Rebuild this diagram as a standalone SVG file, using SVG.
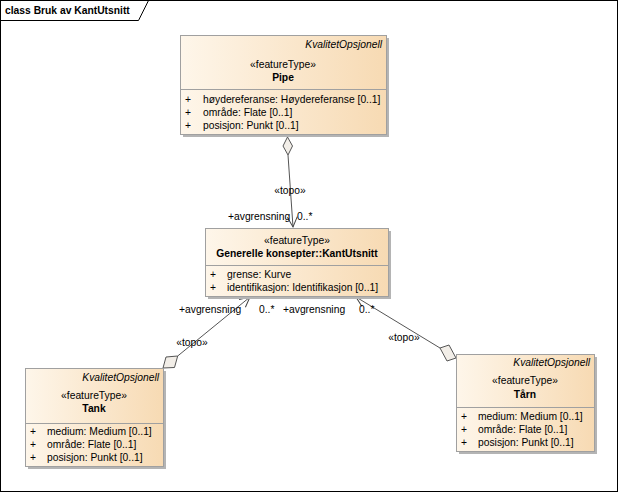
<svg xmlns="http://www.w3.org/2000/svg" width="619" height="493" viewBox="0 0 619 493">
<defs>
<linearGradient id="g" x1="0" y1="0" x2="1" y2="0">
<stop offset="0" stop-color="#FEF6EA"/>
<stop offset="1" stop-color="#F7DAB3"/>
</linearGradient>
<marker id="arr" viewBox="0 0 14 14" refX="12" refY="7" markerWidth="14" markerHeight="14" markerUnits="userSpaceOnUse" orient="auto">
<path d="M2,2 L12,7 L2,12" fill="none" stroke="#444" stroke-width="1"/>
</marker>
</defs>
<style>
text{font-family:"Liberation Sans",Arial,sans-serif;font-size:10.3px;fill:#000}
.b{font-weight:bold}
.i{font-style:italic}
.m{text-anchor:middle}
.r{text-anchor:end}
.box{fill:url(#g);stroke:#A0A0A0;stroke-width:1}
.sh{fill:#B4B4B4}
.div{stroke:#A0A0A0;stroke-width:1}
.ln{fill:none;stroke:#555;stroke-width:1}
.dia{fill:#F2EEE8;stroke:#555;stroke-width:1}
</style>
<rect x="0" y="0" width="619" height="493" fill="#fff"/>
<g id="frame">
<rect x="0.5" y="0.5" width="617" height="491" fill="none" stroke="#000" stroke-width="1"/>
<path d="M0.5,20.5 H138.5 L148.5,0.5" fill="none" stroke="#000" stroke-width="1"/>
<text class="b" x="5" y="14">class Bruk av KantUtsnitt</text>
</g>
<g id="connectors">
<polygon class="dia" points="287.5,137 292.5,146 288,155 283,146"/>
<line class="ln" x1="288" y1="155" x2="293" y2="227" marker-end="url(#arr)"/>
<polygon class="dia" points="163,368 174.5,367.5 177.7,356 166,357"/>
<line class="ln" x1="177.7" y1="356" x2="250" y2="297" marker-end="url(#arr)"/>
<polygon class="dia" points="456,358 447,361 440,348 449,345"/>
<line class="ln" x1="440" y1="348" x2="356" y2="297" marker-end="url(#arr)"/>
<text class="m" x="290" y="194">«topo»</text>
<text x="228" y="220">+avgrensning</text>
<text x="297" y="220">0..*</text>
<text x="179" y="313">+avgrensning</text>
<text x="259" y="313">0..*</text>
<text class="m" x="192" y="346">«topo»</text>
<text x="283" y="313">+avgrensning</text>
<text x="359" y="313">0..*</text>
<text class="m" x="404" y="341">«topo»</text>
</g>
<g id="pipe">
<rect class="sh" x="183" y="38" width="206" height="99"/>
<rect class="box" x="180.5" y="35.5" width="206" height="99"/>
<line class="div" x1="180.5" y1="89.5" x2="386.5" y2="89.5"/>
<text class="i r" x="382" y="48">KvalitetOpsjonell</text>
<text class="m" x="283" y="68">«featureType»</text>
<text class="b m" x="283" y="81">Pipe</text>
<text x="185" y="103">+</text><text x="203" y="103">høydereferanse: Høydereferanse [0..1]</text>
<text x="185" y="116">+</text><text x="203" y="116">område: Flate [0..1]</text>
<text x="185" y="129">+</text><text x="203" y="129">posisjon: Punkt [0..1]</text>
</g>
<g id="kantutsnitt">
<rect class="sh" x="208" y="231" width="183" height="68"/>
<rect class="box" x="205.5" y="228.5" width="183" height="68"/>
<line class="div" x1="205.5" y1="265.5" x2="388.5" y2="265.5"/>
<text class="m" x="297" y="244">«featureType»</text>
<text class="b m" x="297" y="257">Generelle konsepter::KantUtsnitt</text>
<text x="210" y="278">+</text><text x="227" y="278">grense: Kurve</text>
<text x="210" y="291">+</text><text x="227" y="291">identifikasjon: Identifikasjon [0..1]</text>
</g>
<g id="tank">
<rect class="sh" x="28" y="371" width="138" height="98"/>
<rect class="box" x="25.5" y="368.5" width="138" height="98"/>
<line class="div" x1="25.5" y1="423.5" x2="163.5" y2="423.5"/>
<text class="i r" x="159" y="381">KvalitetOpsjonell</text>
<text class="m" x="94" y="399">«featureType»</text>
<text class="b m" x="94" y="412">Tank</text>
<text x="30" y="435">+</text><text x="47" y="435">medium: Medium [0..1]</text>
<text x="30" y="448">+</text><text x="47" y="448">område: Flate [0..1]</text>
<text x="30" y="461">+</text><text x="47" y="461">posisjon: Punkt [0..1]</text>
</g>
<g id="taarn">
<rect class="sh" x="459" y="357" width="138" height="97"/>
<rect class="box" x="456.5" y="354.5" width="138" height="97"/>
<line class="div" x1="456.5" y1="407.5" x2="594.5" y2="407.5"/>
<text class="i r" x="590" y="366">KvalitetOpsjonell</text>
<text class="m" x="525" y="384">«featureType»</text>
<text class="b m" x="525" y="398">Tårn</text>
<text x="461" y="420">+</text><text x="478" y="420">medium: Medium [0..1]</text>
<text x="461" y="433">+</text><text x="478" y="433">område: Flate [0..1]</text>
<text x="461" y="446">+</text><text x="478" y="446">posisjon: Punkt [0..1]</text>
</g>
</svg>
